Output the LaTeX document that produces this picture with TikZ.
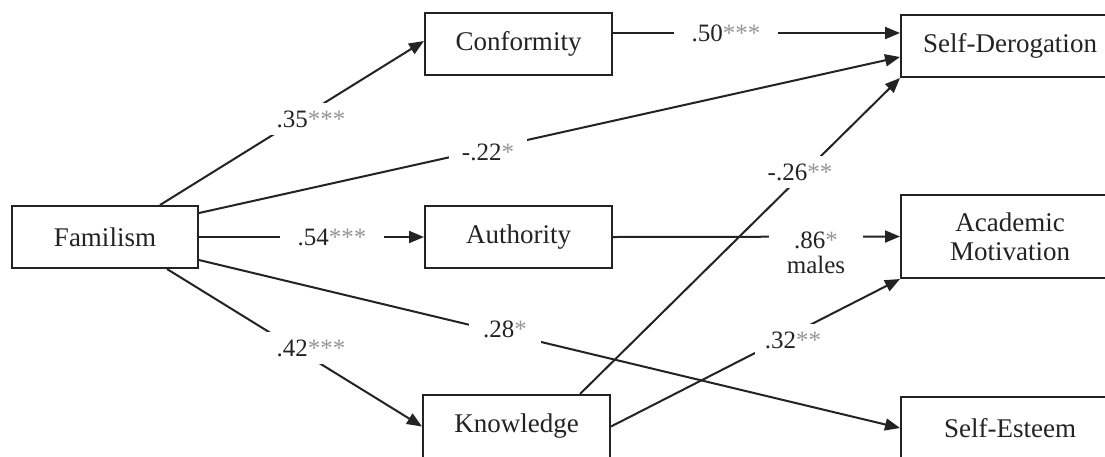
\documentclass[tikz,border=0pt]{standalone}
\usepackage{fontspec}
\setmainfont{Liberation Serif}
\usetikzlibrary{arrows.meta}
\definecolor{ink}{RGB}{35,35,35}
\definecolor{starc}{RGB}{150,150,150}
\tikzset{
  box/.style={draw=ink, line width=2pt, fill=white, text=ink, minimum height=62pt,
    inner sep=0pt, align=center, font=\fontsize{27}{30}\selectfont},
  conn/.style={draw=ink, line width=2pt, -{Triangle[length=15pt,width=12pt]}},
  plain/.style={draw=ink, line width=2pt},
  lbl/.style={fill=white, text=ink, inner xsep=13pt, inner ysep=8pt, align=center,
    font=\fontsize{25}{27}\selectfont},
}
\newcommand{\st}[1]{\textcolor{starc}{#1}}
\begin{document}
\begin{tikzpicture}[x=1pt,y=-1pt]
\path[use as bounding box, clip] (0,0) rectangle (1105,456);
\fill[white] (0,0) rectangle (1105,456);
% boxes
\node[box, minimum width=186pt] (fam) at (105,237) {Familism};
\node[box, minimum width=187pt] (conf) at (518.5,44) {Conformity};
\node[box, minimum width=187pt] (auth) at (518.5,237) {Authority};
\node[box, minimum width=187pt, minimum height=63pt] (know) at (516.5,426.5) {Knowledge};
\node[box, minimum width=218pt] (sd) at (1010,46) {Self-Derogation};
\node[box, minimum width=218pt, minimum height=83pt] (am) at (1010,236.5) {Academic\\[-1pt]Motivation};
\node[box, minimum width=218pt] (se) at (1010,428) {Self-Esteem};
% connectors
\draw[conn] ([xshift=55pt]fam.north) -- ([yshift=3pt]conf.west);
\draw[conn] ([yshift=24pt]fam.east) -- ([yshift=-11pt]sd.west);
\draw[conn] ([yshift=11pt]conf.east) -- ([yshift=13pt]sd.west);
\draw[conn] (fam.east) -- (auth.west);
\draw[conn] (auth.east) -- (am.west);
\draw[conn] ([xshift=63.5pt]know.north) -- (sd.south west);
\draw[conn] (know.east) -- (am.south west);
\draw[conn] ([yshift=-23pt]fam.east) -- (se.west);
\draw[conn] ([xshift=62pt]fam.south) -- (know.west);
% labels
\node[lbl] (l35) at (311,119) {.35\st{***}};
\node[lbl] (l22) at (488,152) {-.22\st{*}};
\node[lbl, inner xsep=18pt] (l50) at (726,33) {.50\st{***}};
\node[lbl, inner xsep=18pt] (l54) at (332,237) {.54\st{***}};
\node[lbl, inner xsep=18pt, inner ysep=2pt] (l86) at (816,253) {.86\st{*}\\[-2pt]males};
\node[lbl, inner xsep=8pt] (l26) at (800,172) {-.26\st{**}};
\node[lbl, inner xsep=10pt] (l32) at (793,340) {.32\st{**}};
\node[lbl, inner xsep=14pt] (l28) at (505,329) {.28\st{*}};
\node[lbl] (l42) at (311,348) {.42\st{***}};
\end{tikzpicture}
\end{document}
